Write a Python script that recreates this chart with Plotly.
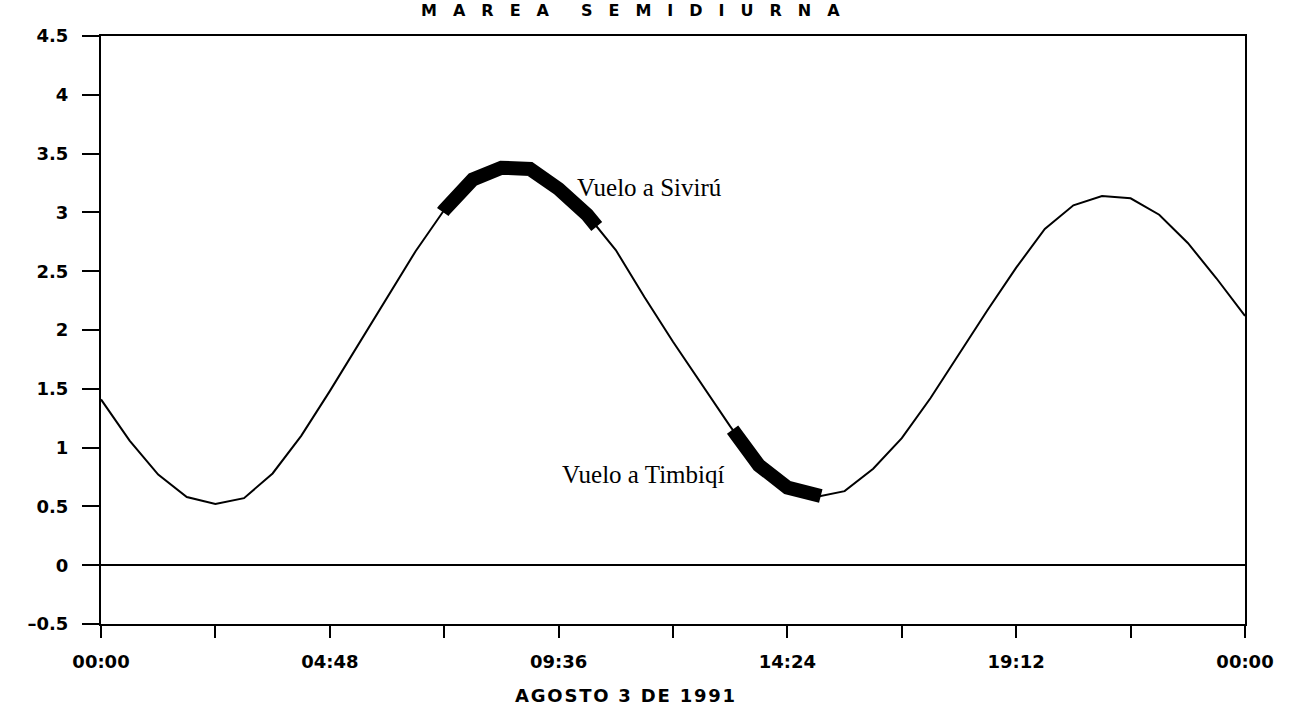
import numpy as np
import plotly.graph_objects as go

# Time grid (hours after 00:00, Agosto 3 1991) and tide height (m)
hours = [0.0, 0.6, 1.2, 1.8, 2.4, 3.0, 3.6, 4.2, 4.8, 5.4, 6.0, 6.6, 7.2, 7.8,
         8.4, 9.0, 9.6, 10.2, 10.8, 11.4, 12.0, 12.6, 13.2, 13.8, 14.4, 15.0,
         15.6, 16.2, 16.8, 17.4, 18.0, 18.6, 19.2, 19.8, 20.4, 21.0, 21.6,
         22.2, 22.8, 23.4, 24.0]
tide = [1.41, 1.06, 0.77, 0.58, 0.52, 0.57, 0.78, 1.10, 1.48, 1.88, 2.28,
        2.67, 3.02, 3.28, 3.38, 3.37, 3.20, 2.98, 2.68, 2.28, 1.90, 1.54,
        1.18, 0.85, 0.66, 0.58, 0.63, 0.82, 1.08, 1.42, 1.80, 2.17, 2.53,
        2.86, 3.06, 3.14, 3.12, 2.98, 2.74, 2.44, 2.12]

# Flight windows (hours)
flight_names = ["Vuelo a Sivirú", "Vuelo a Timbiqí"]
flight_start = [7.17, 13.25]
flight_end = [10.40, 15.10]
label_x = [9.95, 9.62]
label_y = [3.21, 0.77]

x_tickvals = [0, 2.4, 4.8, 7.2, 9.6, 12.0, 14.4, 16.8, 19.2, 21.6, 24.0]
x_ticktext = ["00:00", "", "04:48", "", "09:36", "", "14:24", "", "19:12", "", "00:00"]
y_tickvals = [-0.5, 0, 0.5, 1, 1.5, 2, 2.5, 3, 3.5, 4, 4.5]
y_ticktext = ["–0.5", "0", "0.5", "1", "1.5", "2", "2.5", "3", "3.5", "4", "4.5"]

fig = go.Figure()
fig.add_trace(go.Scatter(x=hours, y=tide, mode="lines",
                         line=dict(color="black", width=2), showlegend=False,
                         hoverinfo="skip"))

h = np.array(hours)
t = np.array(tide)
for s, e in zip(flight_start, flight_end):
    inside = (h > s) & (h < e)
    xs = np.concatenate([[s], h[inside], [e]])
    ys = np.interp(xs, h, t)
    fig.add_trace(go.Scatter(x=xs, y=ys, mode="lines",
                             line=dict(color="black", width=14),
                             showlegend=False, hoverinfo="skip"))

for name, lx, ly in zip(flight_names, label_x, label_y):
    fig.add_annotation(x=lx, y=ly, text=name, showarrow=False,
                       xanchor="left", yanchor="middle",
                       font=dict(family="Liberation Serif", size=25, color="black"))

tick_font = dict(family="DejaVu Sans", size=18, color="black", weight="bold")

fig.update_xaxes(range=[0, 24], tickmode="array", tickvals=x_tickvals,
                 ticktext=x_ticktext, ticks="outside", ticklen=12, tickwidth=2,
                 tickcolor="black", showline=True, linewidth=2, linecolor="black",
                 mirror=True, showgrid=False, zeroline=False, tickfont=tick_font,
                 ticklabelstandoff=8)
fig.update_yaxes(range=[-0.5, 4.5], tickmode="array", tickvals=y_tickvals,
                 ticktext=y_ticktext, ticks="outside", ticklen=17, tickwidth=2,
                 tickcolor="black", showline=True, linewidth=2, linecolor="black",
                 mirror=True, showgrid=False, zeroline=True, zerolinecolor="black",
                 zerolinewidth=2, tickfont=tick_font, ticklabelstandoff=10)

sp = "\u2003"
title_text = sp.join("MAREA") + sp * 2 + sp.join("SEMIDIURNA")
fig.add_annotation(xref="paper", yref="paper", x=(630 - 101) / 1144, y=1.0,
                   yshift=26, text=title_text, showarrow=False,
                   xanchor="center", yanchor="middle",
                   font=dict(family="DejaVu Sans", size=16, color="black", weight="bold"))
hs = "\u200a"
fig.add_annotation(xref="paper", yref="paper", x=(625 - 101) / 1144, y=0.0,
                   yshift=-71, text=hs.join("AGOSTO 3 DE 1991"), showarrow=False,
                   xanchor="center", yanchor="middle",
                   font=dict(family="DejaVu Sans", size=18, color="black", weight="bold"))

fig.update_layout(width=1292, height=708, plot_bgcolor="white", paper_bgcolor="white",
                  margin=dict(l=101, r=47, t=36, b=84), showlegend=False)

fig.write_html("out.html", config={"displayModeBar": False},
               post_script="document.body.style.margin='0';document.body.style.overflow='hidden';")
